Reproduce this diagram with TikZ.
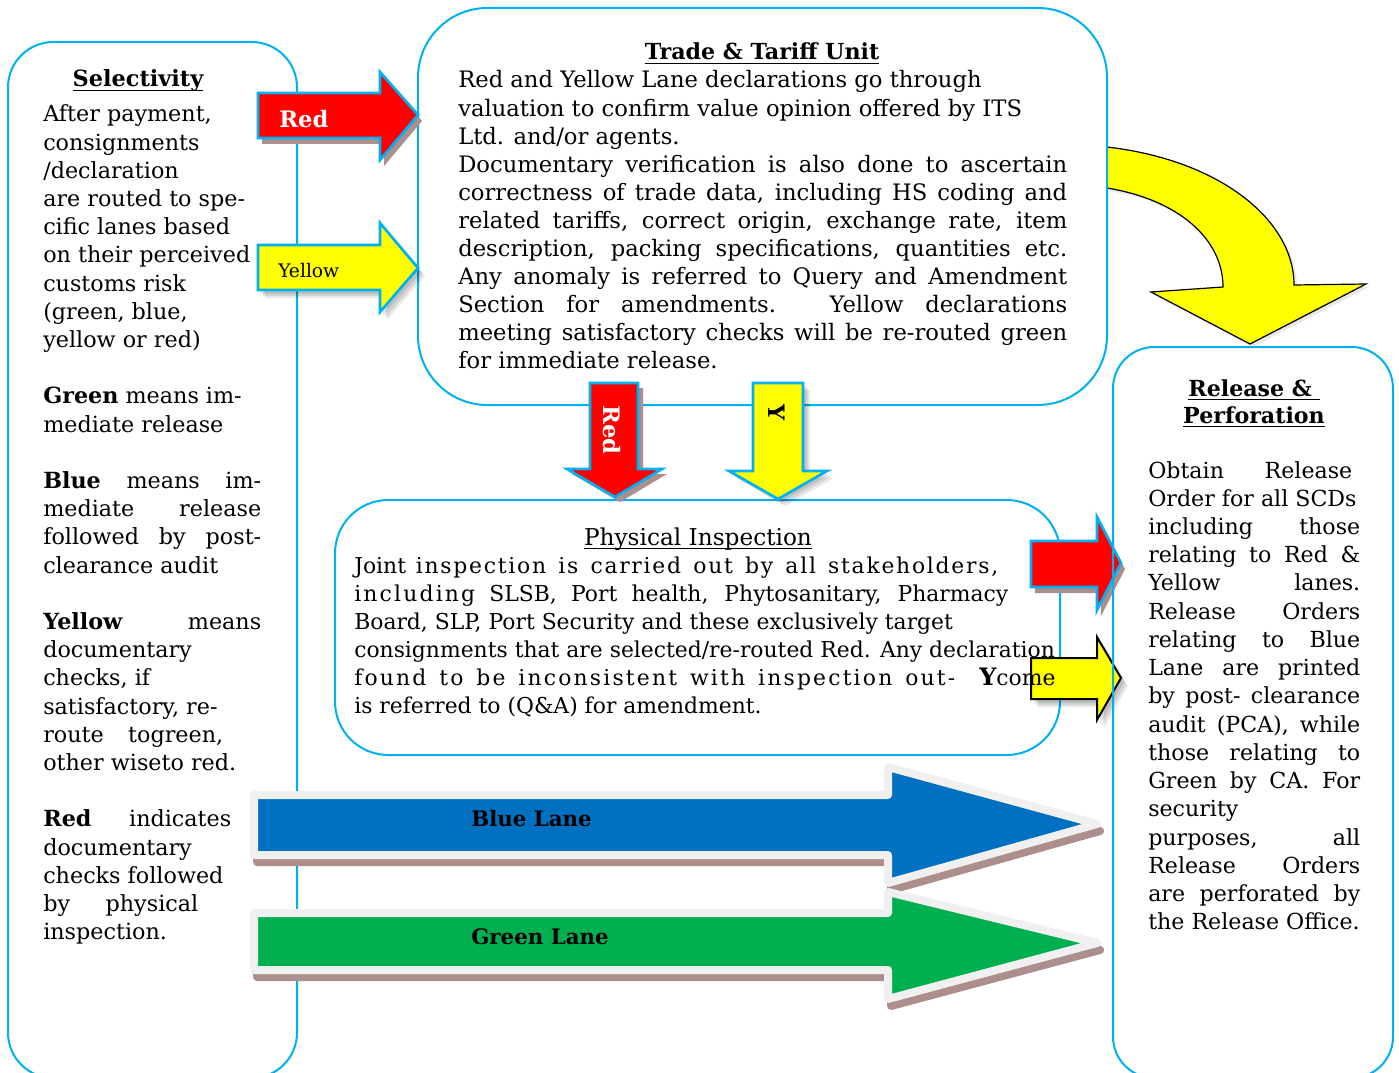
\documentclass[tikz,border=0pt]{standalone}
\usepackage{fontspec}
\setmainfont{DejaVu Serif}
\newdimen\pxu \pxu=0.75pt
\newcommand\J[2]{\makebox[#1\pxu][s]{#2}}
\newcommand\uln[1]{\setbox0\hbox{#1}\rlap{\rule[-3pt]{\wd0}{1pt}}\box0}
\newcommand\LS{\addfontfeature{LetterSpace=8}}
\newcommand\LSw{\addfontfeature{LetterSpace=10}}
\definecolor{cyanb}{HTML}{00B0F0}
\definecolor{redA}{HTML}{FF0000}
\definecolor{yelA}{HTML}{FFFF00}
\definecolor{blueA}{HTML}{0070C0}
\definecolor{greenA}{HTML}{00B050}
\definecolor{borderA}{HTML}{F0F0F0}
\definecolor{shadowA}{HTML}{AC8E8C}
% arrow outlines (px coordinates, y downwards)
\def\pRedR{(258,93) -- (380,93) -- (380,72) -- (418,115) -- (380,160) -- (380,138) -- (258,138) -- cycle}
\def\pYelR{(258,245) -- (380,245) -- (380,223) -- (418,268) -- (380,312) -- (380,290) -- (258,290) -- cycle}
\def\pRedD{(590,383) -- (638,383) -- (638,469) -- (662,469) -- (615,497) -- (567,469) -- (590,469) -- cycle}
\def\pYelD{(753,383) -- (803,383) -- (803,471) -- (827,471) -- (778,499) -- (729,471) -- (753,471) -- cycle}
\def\pRedS{(1031,541) -- (1097,541) -- (1097,517) -- (1121,563) -- (1097,610) -- (1097,587) -- (1031,587) -- cycle}
\def\pYelS{(1031,658) -- (1097,658) -- (1097,637) -- (1121,678) -- (1097,720) -- (1097,699) -- (1031,699) -- cycle}
\def\pBlue{(254,795) -- (888,795) -- (888,767) -- (1097,824) -- (888,883) -- (888,855) -- (254,855) -- cycle}
\def\pGreen{(254,913) -- (888,913) -- (888,892) -- (1097,943) -- (888,999) -- (888,970) -- (254,970) -- cycle}
\def\pCurve{(1107,147) .. controls (1220,160) and (1294,220) .. (1294,285) -- (1366,284) -- (1250,344) -- (1151,292) -- (1223,287) .. controls (1223,240) and (1180,200) .. (1107,188) -- cycle}
\begin{document}
\begin{tikzpicture}[x=0.75pt,y=-0.75pt,
  boxline/.style={draw=cyanb, line width=1.5pt},
  txt/.style={inner sep=0pt, anchor=base west},
  ctxt/.style={inner sep=0pt, anchor=base},
  softshade/.style={fill=black, opacity=0.09}]
\useasboundingbox (0,0) rectangle (1399,1073);
\fill[white] (0,0) rectangle (1399,1073);

% curved yellow arrow
\fill[softshade, shift={(3,3)}] \pCurve;
\filldraw[fill=yelA, draw=black, line width=0.9pt] \pCurve;

% boxes
\draw[boxline, rounded corners=34pt] (8,42) rectangle (297,1078);
\draw[boxline, rounded corners=52pt] (418,8) rectangle (1107,405);
\draw[boxline, rounded corners=40pt] (335,500) rectangle (1060,755);

% red right arrow
\fill[shadowA, shift={(4,6)}] \pRedR;
\filldraw[fill=redA, draw=cyanb, line width=2pt] \pRedR;
% yellow right arrow
\fill[softshade, shift={(3,4)}] \pYelR;
\fill[softshade, shift={(5,6)}] \pYelR;
\fill[softshade, shift={(7,8)}] \pYelR;
\filldraw[fill=yelA, draw=cyanb, line width=2pt] \pYelR;
% red down arrow
\fill[shadowA, shift={(5,5)}] \pRedD;
\filldraw[fill=redA, draw=cyanb, line width=2pt] \pRedD;
% yellow down arrow
\fill[softshade, shift={(3,3)}] \pYelD;
\fill[softshade, shift={(5,5)}] \pYelD;
\fill[softshade, shift={(7,7)}] \pYelD;
\filldraw[fill=yelA, draw=cyanb, line width=2pt] \pYelD;
% small red right arrow
\fill[shadowA, shift={(4,6)}] \pRedS;
\filldraw[fill=redA, draw=cyanb, line width=2pt] \pRedS;
% small yellow right arrow
\fill[softshade, shift={(3,4)}] \pYelS;
\fill[softshade, shift={(5,6)}] \pYelS;
\fill[softshade, shift={(7,8)}] \pYelS;
\filldraw[fill=yelA, draw=black, line width=1.5pt] \pYelS;

% big lane arrows
\filldraw[fill=shadowA, draw=shadowA, line width=6pt, line join=round, shift={(3,7)}] \pBlue;
\filldraw[fill=blueA, draw=borderA, line width=6pt, line join=round] \pBlue;
\filldraw[fill=shadowA, draw=shadowA, line width=6pt, line join=round, shift={(3,7)}] \pGreen;
\filldraw[fill=greenA, draw=borderA, line width=6pt, line join=round] \pGreen;

% release box
\draw[boxline, rounded corners=31pt] (1113,347) rectangle (1393,1078);

% arrow labels
\node[txt, text=white, font=\fontsize{17}{20}\selectfont\bfseries] (lblRedR) at (279,128) {Red};
\node[txt, font=\fontsize{14}{17}\selectfont] (lblYelR) at (278,277) {Yellow};
\node[inner sep=0pt, rotate=-90, text=white, font=\fontsize{17}{20}\selectfont\bfseries] (lblRedD) at (612,430) {Red};
\node[inner sep=0pt, rotate=-90, font=\fontsize{17}{20}\selectfont\bfseries] (lblYelD) at (777,413) {Y};
\node[txt, font=\fontsize{16}{19}\selectfont\bfseries] (lblBlue) at (471,826) {Blue Lane};
\node[txt, font=\fontsize{16}{19}\selectfont\bfseries] (lblGreen) at (471,944) {Green Lane};

% Selectivity
\node[ctxt, font=\fontsize{16.8}{20}\selectfont\bfseries] (selTitle) at (138,87) {\uln{Selectivity}};
\node[txt] (selText) at (43,122) {\parbox[t]{300pt}{\fontsize{16.7}{21.15}\selectfont\raggedright
After payment,\\
consignments\\
/declaration\\
are routed to spe-\\
cific lanes based\\
on their perceived\\
customs risk\\
(green, blue,\\
yellow or red)\\[21.15pt]
\textbf{Green} means im-\\
mediate release\\[21.15pt]
\J{218}{\textbf{Blue} means im-}\\
\J{218}{mediate release}\\
\J{218}{followed by post-}\\
clearance audit\\[21.15pt]
\J{218}{\textbf{Yellow} means}\\
documentary\\
checks, if\\
satisfactory, re-\\
\J{180}{route togreen,}\\
other wiseto red.\\[21.15pt]
\J{188}{\textbf{Red} indicates}\\
documentary\\
checks followed\\
\J{155}{by physical}\\
inspection.}};

% Trade & Tariff Unit
\node[ctxt, font=\fontsize{16.6}{20}\selectfont\bfseries] (tradeTitle) at (762,60) {\uln{Trade \& Tariff Unit}};
\node[txt] (tradeText) at (458,88) {\parbox[t]{500pt}{\fontsize{17}{21.04}\selectfont\raggedright
Red and Yellow Lane declarations go through\\
valuation to confirm value opinion offered by ITS\\
Ltd. and/or agents.\\
\J{609}{Documentary verification is also done to ascertain}\\
\J{609}{correctness of trade data, including HS coding and}\\
\J{609}{related tariffs, correct origin, exchange rate, item}\\
\J{609}{description, packing specifications, quantities etc.}\\
\J{609}{Any anomaly is referred to Query and Amendment}\\
\J{609}{Section for amendments. Yellow declarations}\\
\J{609}{meeting satisfactory checks will be re-routed green}\\
for immediate release.}};

% Physical Inspection
\node[ctxt, font=\fontsize{17.4}{20}\selectfont] (physTitle) at (698,545) {\uln{Physical Inspection}};
\node[txt] (physText) at (354,573) {\parbox[t]{600pt}{\fontsize{16.4}{21}\selectfont\raggedright
\J{644}{Joint {\LS inspection is carried out by all stakeholders,}}\\
\J{654}{{\LSw including} SLSB, Port health, Phytosanitary, Pharmacy}\\
Board, SLP, Port Security and these exclusively target\\
consignments that are selected/re-routed Red. Any declaration\\
\makebox[625\pxu][l]{\J{601}{\LSw found to be inconsistent with inspection out-}}{\fontsize{18}{21}\selectfont\bfseries Y}come\\
is referred to (Q\&A) for amendment.}};

% Release & Perforation
\node[ctxt, font=\fontsize{16.6}{20}\selectfont\bfseries] (relTitle1) at (1254,396) {\uln{Release \&\ }};
\node[ctxt, font=\fontsize{16.6}{20}\selectfont\bfseries] (relTitle2) at (1254,423) {\uln{Perforation}};
\node[txt] (relText) at (1148,478) {\parbox[t]{300pt}{\fontsize{16.6}{21.18}\selectfont\raggedright
\J{204}{Obtain Release}\\
Order for all SCDs\\
\J{212}{including those}\\
\J{212}{relating to Red \&}\\
\J{212}{Yellow lanes.}\\
\J{212}{Release Orders}\\
\J{212}{relating to Blue}\\
\J{212}{Lane are printed}\\
\J{212}{by post- clearance}\\
\J{212}{audit (PCA), while}\\
\J{212}{those relating to}\\
\J{212}{Green by CA. For}\\
security\\
\J{212}{purposes, all}\\
\J{212}{Release Orders}\\
\J{212}{are perforated by}\\
the Release Office.}};
\end{tikzpicture}
\end{document}
